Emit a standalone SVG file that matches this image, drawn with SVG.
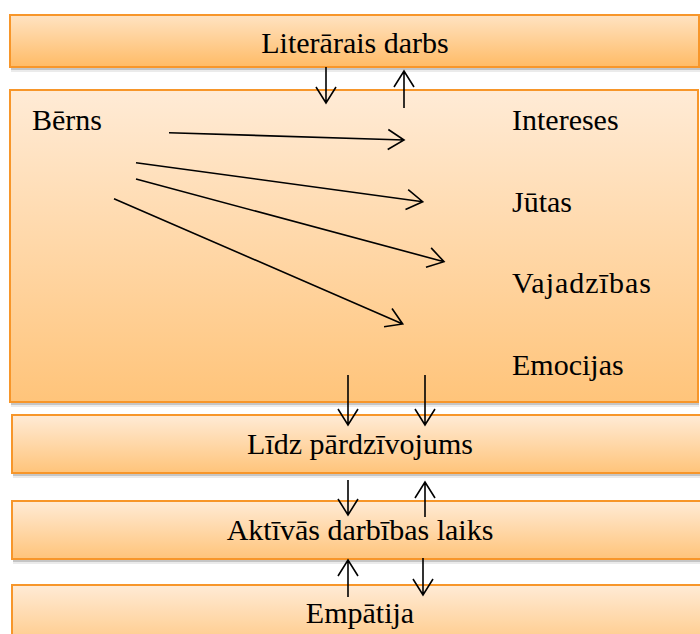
<svg xmlns="http://www.w3.org/2000/svg" width="700" height="634" viewBox="0 0 700 634" font-family="'Liberation Serif', serif">
<style>
.box{fill:url(#g);stroke:#F7962A;stroke-width:2}
.box2{fill:url(#g2);stroke:#F7962A;stroke-width:2}
.s1{fill:#000;fill-opacity:0.16}
.s2{fill:#000;fill-opacity:0.08}
.a{stroke:#000;stroke-width:1.6;fill:none}
</style>
<defs>
<linearGradient id="g" x1="0" y1="0" x2="0" y2="1">
<stop offset="0" stop-color="#FFEBD6"/>
<stop offset="1" stop-color="#FFC47A"/>
</linearGradient>
<linearGradient id="g2" x1="0" y1="0" x2="0" y2="1">
<stop offset="0" stop-color="#FFE3C2"/>
<stop offset="1" stop-color="#FFBB66"/>
</linearGradient>
</defs>
<g id="literarais">
<rect class="s2" x="11" y="20" width="689" height="52"/>
<rect class="s1" x="11" y="18" width="689" height="52"/>
<rect class="box2" x="10" y="15" width="689" height="52"/>
<text x="355" y="53" font-size="30" text-anchor="middle" font-family="'Liberation Serif'">Literārais darbs</text>
</g>
<g id="berns">
<rect class="s2" x="11" y="95" width="688" height="312"/>
<rect class="s1" x="11" y="93" width="688" height="312"/>
<rect class="box" x="10" y="90" width="688" height="312"/>
<text x="32" y="130" font-size="30" font-family="'Liberation Serif'">Bērns</text>
<text x="512" y="130" font-size="30" font-family="'Liberation Serif'">Intereses</text>
<text x="512" y="212" font-size="30" font-family="'Liberation Serif'">Jūtas</text>
<text x="512" y="293" font-size="30" font-family="'Liberation Serif'" letter-spacing="1">Vajadzības</text>
<text x="512" y="375" font-size="30" font-family="'Liberation Serif'">Emocijas</text>
</g>
<g id="lidz">
<rect class="s2" x="13" y="420" width="700" height="58"/>
<rect class="s1" x="13" y="418" width="700" height="58"/>
<rect class="box" x="12" y="415" width="700" height="58"/>
<text x="360" y="454" font-size="30" text-anchor="middle" font-family="'Liberation Serif'">Līdz pārdzīvojums</text>
</g>
<g id="aktivas">
<rect class="s2" x="13" y="506" width="700" height="58"/>
<rect class="s1" x="13" y="504" width="700" height="58"/>
<rect class="box" x="12" y="501" width="700" height="58"/>
<text x="360" y="540" font-size="30" text-anchor="middle" font-family="'Liberation Serif'">Aktīvās darbības laiks</text>
</g>
<g id="empatija">
<rect class="box" x="12" y="585" width="700" height="70"/>
<text x="360" y="623" font-size="30" text-anchor="middle" font-family="'Liberation Serif'">Empātija</text>
</g>
<g id="connectors">
<path class="a" d="M326,67 V103 M316,87 L326,103 L336,87"/>
<path class="a" d="M404,108 V71 M394,87 L404,71 L414,87"/>
<path class="a" d="M169,132.7 L404,140 M387.7,149.5 L404,140 L388.32,129.51"/>
<path class="a" d="M136,162.7 L422.7,201.7 M405.5,209.45 L422.7,201.7 L408.2,189.63"/>
<path class="a" d="M136,179 L444,261.7 M425.96,267.21 L444,261.7 L431.14,247.89"/>
<path class="a" d="M114,198.7 L402.7,324 M384.04,326.8 L402.7,324 L392,308.46"/>
<path class="a" d="M348,375 V425 M338,409 L348,425 L358,409"/>
<path class="a" d="M425,375 V425 M415,409 L425,425 L435,409"/>
<path class="a" d="M348,480 V515 M338,499 L348,515 L358,499"/>
<path class="a" d="M425,517 V482 M415,498 L425,482 L435,498"/>
<path class="a" d="M348,597 V560 M338,576 L348,560 L358,576"/>
<path class="a" d="M423,558 V595 M413,579 L423,595 L433,579"/>
</g>
</svg>
